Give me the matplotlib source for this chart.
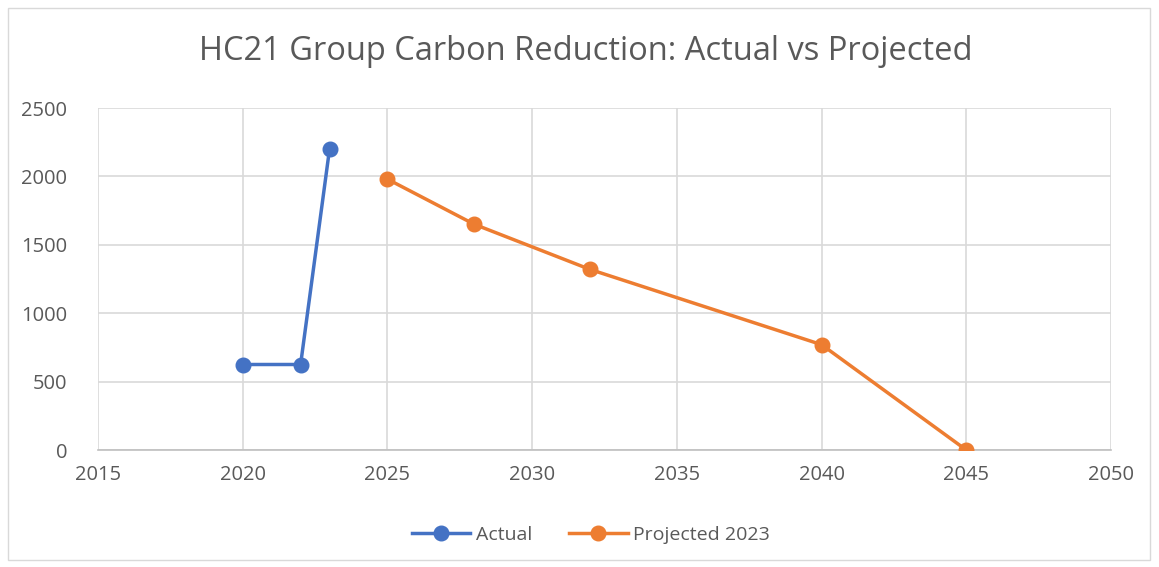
import matplotlib
matplotlib.use("Agg")
import matplotlib.pyplot as plt
from matplotlib.patches import Rectangle

actual_years = [2020, 2022, 2023]
actual_values = [625, 625, 2200]
proj_years = [2025, 2028, 2032, 2040, 2045]
proj_values = [1980, 1650, 1320, 770, 0]
x_ticks = [2015, 2020, 2025, 2030, 2035, 2040, 2045, 2050]
y_ticks = [0, 500, 1000, 1500, 2000, 2500]

plt.rcParams['font.family'] = ['Open Sans', 'DejaVu Sans']
txt = '#595959'
fig = plt.figure(figsize=(11.59, 5.67), dpi=100)
fig.patches.append(Rectangle((8/1159, 7/567), 1142/1159, 552/567, transform=fig.transFigure,
                             fill=False, edgecolor='#d9d9d9', linewidth=1))
ax = fig.add_axes([98/1159, 1-450/567, (1111-98)/1159, (450-108)/567])
ax.plot(actual_years, actual_values, color='#4472C4', lw=2.5, marker='o', ms=10.5, label='Actual', zorder=3)
ax.plot(proj_years, proj_values, color='#ED7D31', lw=2.5, marker='o', ms=10.5, label='Projected 2023', zorder=3)
ax.set_xlim(2015, 2050)
ax.set_ylim(0, 2500)
ax.set_xticks(x_ticks)
ax.set_yticks(y_ticks)
ax.grid(True, color='#d9d9d9', lw=1.2)
ax.set_axisbelow(True)
for s in ['top', 'right', 'left']:
    ax.spines[s].set_visible(False)
ax.spines['bottom'].set_color('#bfbfbf')
ax.spines['bottom'].set_linewidth(1.2)
ax.tick_params(length=0, labelsize=14.5, colors=txt, pad=11)
ax.tick_params(axis='y', pad=22)
fig.text(586/1159, 1-51/567, 'HC21 Group Carbon Reduction: Actual vs Projected', ha='center', va='center',
         fontsize=23.5, color=txt)
leg = fig.legend(loc='center', bbox_to_anchor=(591/1159, 1-535/567), ncol=2, frameon=False,
                 fontsize=14, handlelength=3, columnspacing=1.9, handletextpad=0.3)
for t in leg.get_texts():
    t.set_color(txt)
fig.savefig('out.png', dpi=100)
